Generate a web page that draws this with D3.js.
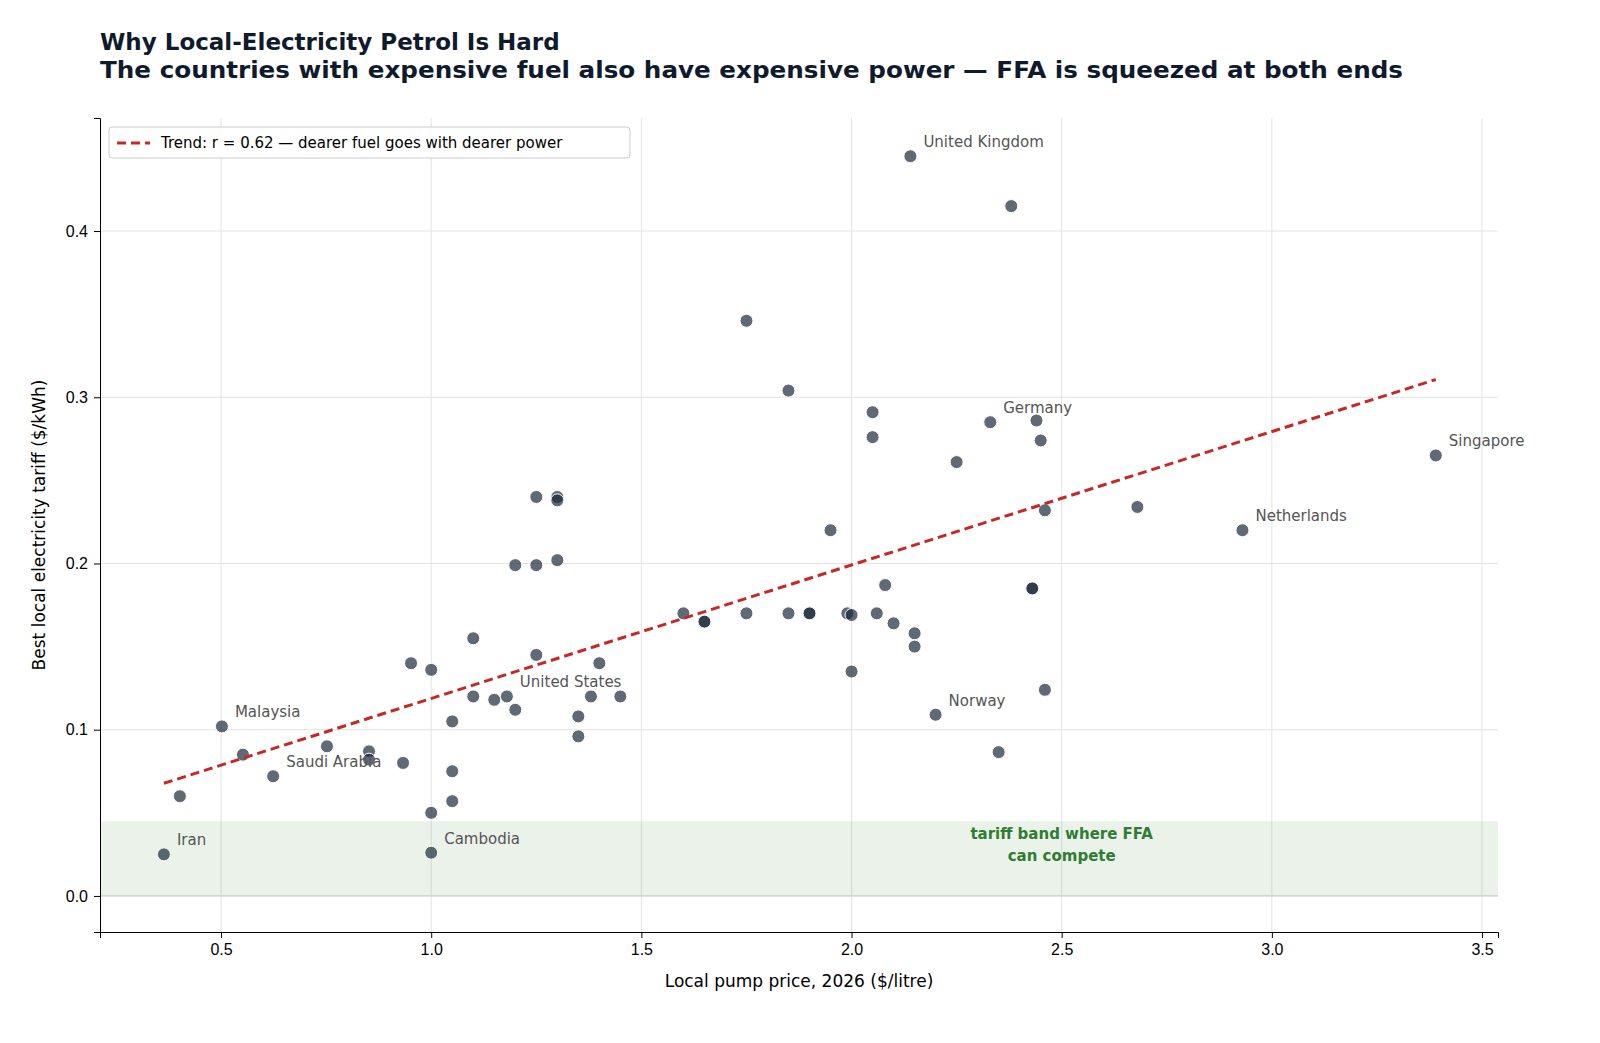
<!DOCTYPE html>
<html><head><meta charset="utf-8">
<script src="https://cdn.jsdelivr.net/npm/d3@7"></script>
<style>html,body{margin:0;overflow:hidden;background:#fff;font-family:"DejaVu Sans",sans-serif}svg{display:block}</style>
</head><body><svg id="chart" width="1600" height="1043"></svg>
<script>
// pump price ($/litre) and best tariff ($/kWh) per country
const pumpPrice = [0.364,0.402,0.502,0.552,0.624,0.752,0.852,0.852,0.933,0.952,1.0,1.0,1.0,1.05,1.05,1.05,1.10,1.10,1.15,1.18,1.20,1.20,1.25,1.25,1.25,1.30,1.30,1.30,1.35,1.35,1.38,1.40,1.45,1.60,1.65,1.65,1.75,1.75,1.85,1.85,1.90,1.90,1.95,1.99,2.00,2.00,2.05,2.05,2.06,2.08,2.10,2.14,2.15,2.15,2.20,2.25,2.33,2.35,2.38,2.43,2.43,2.44,2.45,2.46,2.46,2.68,2.93,3.39];
const tariff = [0.025,0.060,0.102,0.085,0.072,0.090,0.087,0.082,0.080,0.140,0.136,0.050,0.026,0.105,0.075,0.057,0.155,0.120,0.118,0.120,0.112,0.199,0.199,0.240,0.145,0.240,0.238,0.202,0.108,0.096,0.120,0.140,0.120,0.170,0.165,0.165,0.346,0.170,0.304,0.170,0.170,0.170,0.220,0.170,0.169,0.135,0.291,0.276,0.170,0.187,0.164,0.445,0.158,0.150,0.109,0.261,0.285,0.0865,0.415,0.185,0.185,0.286,0.274,0.232,0.124,0.234,0.220,0.265];
const labels = [[0,"Iran"],[2,"Malaysia"],[4,"Saudi Arabia"],[12,"Cambodia"],[19,"United States"],[51,"United Kingdom"],[54,"Norway"],[56,"Germany"],[66,"Netherlands"],[67,"Singapore"]];
const xTicks = [0.5,1.0,1.5,2.0,2.5,3.0,3.5];
const yTicks = [0.0,0.1,0.2,0.3,0.4];
const ffaBand = [0, 0.045];

const svg = d3.select("#chart");
const m = {l:100, r:1498, t:118, b:932};
const x = d3.scaleLinear().domain([0.212,3.538]).range([m.l,m.r]);
const y = d3.scaleLinear().domain([-0.0217,0.468]).range([m.b,m.t]);

svg.append("text").attr("x",100).attr("y",50).attr("font-size",23).attr("font-weight","bold").attr("fill","#0f1b2d").text("Why Local-Electricity Petrol Is Hard");
svg.append("text").attr("x",100).attr("y",78).attr("font-size",23).attr("font-weight","bold").attr("fill","#0f1b2d")
  .attr("textLength",1303).attr("lengthAdjust","spacingAndGlyphs")
  .text("The countries with expensive fuel also have expensive power — FFA is squeezed at both ends");

// grid
svg.append("g").selectAll("line").data(xTicks).join("line")
  .attr("x1",d=>x(d)).attr("x2",d=>x(d)).attr("y1",m.t).attr("y2",m.b).attr("stroke","#e3e3e3");
svg.append("g").selectAll("line").data(yTicks).join("line")
  .attr("x1",m.l).attr("x2",m.r).attr("y1",d=>y(d)).attr("y2",d=>y(d)).attr("stroke","#e3e3e3");

// band
svg.append("rect").attr("x",m.l).attr("width",m.r-m.l).attr("y",y(ffaBand[1])).attr("height",y(ffaBand[0])-y(ffaBand[1]))
  .attr("fill","#2e7d32").attr("fill-opacity",0.1);
svg.append("line").attr("x1",m.l).attr("x2",m.r).attr("y1",y(0)).attr("y2",y(0)).attr("stroke","#ccc");
const bt = svg.append("text").attr("text-anchor","middle").attr("font-size",15).attr("font-weight","bold").attr("fill","#2e7d32");
bt.append("tspan").attr("x",x(2.5)).attr("y",y(0.034)).text("tariff band where FFA");
bt.append("tspan").attr("x",x(2.5)).attr("y",y(0.021)).text("can compete");

// trend (least squares)
const mx = d3.mean(pumpPrice), my = d3.mean(tariff);
let sxy=0, sxx=0;
pumpPrice.forEach((v,i)=>{sxy+=(v-mx)*(tariff[i]-my); sxx+=(v-mx)**2;});
const slope = sxy/sxx, icpt = my-slope*mx;
const xe = d3.extent(pumpPrice);

// points
svg.append("g").selectAll("circle").data(pumpPrice).join("circle")
  .attr("cx",d=>x(d)).attr("cy",(d,i)=>y(tariff[i])).attr("r",6.5)
  .attr("fill","#1c2b3a").attr("fill-opacity",0.7).attr("stroke","#fff").attr("stroke-width",1);

svg.append("line").attr("x1",x(xe[0])).attr("y1",y(icpt+slope*xe[0])).attr("x2",x(xe[1])).attr("y2",y(icpt+slope*xe[1]))
  .attr("stroke","#c62828").attr("stroke-width",3).attr("stroke-dasharray","9,5");

svg.append("g").selectAll("text").data(labels).join("text")
  .attr("x",d=>x(pumpPrice[d[0]])+13).attr("y",d=>y(tariff[d[0]])-9)
  .attr("font-size",15).attr("fill","#555").text(d=>d[1]);

// axes
svg.append("g").attr("transform",`translate(0,${m.b})`).call(d3.axisBottom(x).tickValues(xTicks).tickFormat(d3.format(".1f")).tickSizeOuter(0).tickSize(6).tickPadding(6))
  .call(g=>g.selectAll("text").attr("font-size",16).attr("fill","#000"));
svg.append("g").attr("transform",`translate(${m.l},0)`).call(d3.axisLeft(y).tickValues(yTicks).tickFormat(d3.format(".1f")).tickSizeOuter(0).tickSize(6).tickPadding(6))
  .call(g=>g.selectAll("text").attr("font-size",16).attr("fill","#000"));
svg.selectAll(".domain").attr("stroke","#000");
svg.append("text").attr("x",(m.l+m.r)/2).attr("y",987).attr("text-anchor","middle").attr("font-size",17).text("Local pump price, 2026 ($/litre)");
svg.append("text").attr("transform",`translate(45,${(m.t+m.b)/2}) rotate(-90)`).attr("text-anchor","middle").attr("font-size",17).text("Best local electricity tariff ($/kWh)");

// legend
const lg = svg.append("g");
lg.append("rect").attr("x",109).attr("y",127).attr("width",521).attr("height",31).attr("rx",3).attr("fill","#fff").attr("fill-opacity",0.85).attr("stroke","#ccc");
lg.append("line").attr("x1",117).attr("x2",150).attr("y1",143).attr("y2",143).attr("stroke","#c62828").attr("stroke-width",3).attr("stroke-dasharray","9,5");
lg.append("text").attr("x",161).attr("y",148).attr("font-size",15).text("Trend: r = 0.62 — dearer fuel goes with dearer power");
</script></body></html>
